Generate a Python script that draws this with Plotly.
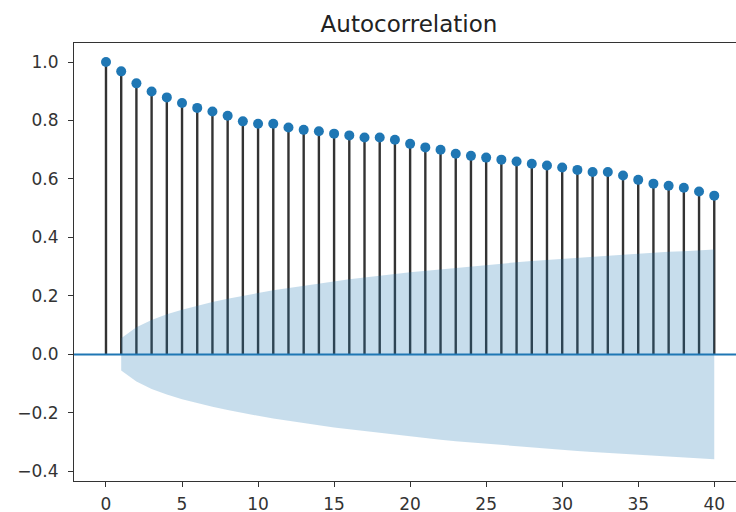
import plotly.graph_objects as go

lags = list(range(41))
acf_values = [1.000, 0.968, 0.927, 0.899, 0.879, 0.860, 0.843, 0.831, 0.816, 0.797,
              0.789, 0.789, 0.776, 0.768, 0.763, 0.755, 0.749, 0.742, 0.742, 0.734,
              0.720, 0.708, 0.700, 0.686, 0.679, 0.673, 0.666, 0.660, 0.652, 0.646,
              0.639, 0.631, 0.624, 0.624, 0.612, 0.597, 0.584, 0.577, 0.570, 0.557,
              0.543]
band_lags = list(range(1, 41))
band_half = [0.055, 0.093, 0.118, 0.137, 0.153, 0.167, 0.179, 0.190, 0.201, 0.210,
             0.219, 0.227, 0.235, 0.242, 0.250, 0.257, 0.263, 0.270, 0.275, 0.281,
             0.286, 0.292, 0.297, 0.302, 0.306, 0.311, 0.315, 0.319, 0.323, 0.326,
             0.330, 0.334, 0.338, 0.341, 0.344, 0.348, 0.351, 0.353, 0.356, 0.359]
x_ticks = [0, 5, 10, 15, 20, 25, 30, 35, 40]
y_ticks = [-0.4, -0.2, 0.0, 0.2, 0.4, 0.6, 0.8, 1.0]

C0 = "#1f77b4"
TXT = "#333333"

stem_x, stem_y = [], []
for k, r in zip(lags, acf_values):
    stem_x += [k, k, None]
    stem_y += [0, r, None]

fig = go.Figure()
fig.add_trace(go.Scatter(x=stem_x, y=stem_y, mode="lines",
                         line=dict(color="#333333", width=2.4),
                         hoverinfo="skip", showlegend=False))
fig.add_trace(go.Scatter(x=band_lags + band_lags[::-1],
                         y=band_half + [-v for v in band_half[::-1]],
                         fill="toself", fillcolor="rgba(31,119,180,0.25)",
                         line=dict(width=0), mode="lines",
                         hoverinfo="skip", showlegend=False))
fig.add_trace(go.Scatter(x=lags, y=acf_values, mode="markers",
                         marker=dict(color=C0, size=10, line=dict(width=0)),
                         showlegend=False))

fig.add_shape(type="line", xref="paper", x0=0, x1=1, yref="y", y0=0, y1=0,
              line=dict(color=C0, width=2), layer="above")

fig.update_layout(
    width=736, height=512,
    margin=dict(l=74, r=0, t=43, b=31, autoexpand=False),
    paper_bgcolor="white", plot_bgcolor="white",
    font=dict(family="DejaVu Sans", color=TXT, size=17),
    title=dict(text="Autocorrelation", x=409 / 736, xref="container", xanchor="center",
               y=1 - 24 / 512, yref="container", yanchor="middle",
               font=dict(size=23, color="#222222", family="DejaVu Sans")),
    xaxis=dict(range=[-2.104, 41.43], tickvals=x_ticks, ticktext=[str(v) for v in x_ticks],
               showgrid=False, zeroline=False, showline=True, linecolor="#333333",
               linewidth=1.2, mirror=True, ticks="outside", ticklen=5, tickwidth=1.2,
               tickcolor="#333333", ticklabelstandoff=2),
    yaxis=dict(range=[-0.433, 1.065], tickvals=y_ticks, tickformat=".1f",
               showgrid=False, zeroline=False, showline=True, linecolor="#333333",
               linewidth=1.2, mirror=False, ticks="outside", ticklen=5, tickwidth=1.2,
               tickcolor="#333333", ticklabelstandoff=6),
)

fig.write_html("out.html", config={"displayModeBar": False},
               post_script="document.body.style.margin='0';document.body.style.overflow='hidden';")
